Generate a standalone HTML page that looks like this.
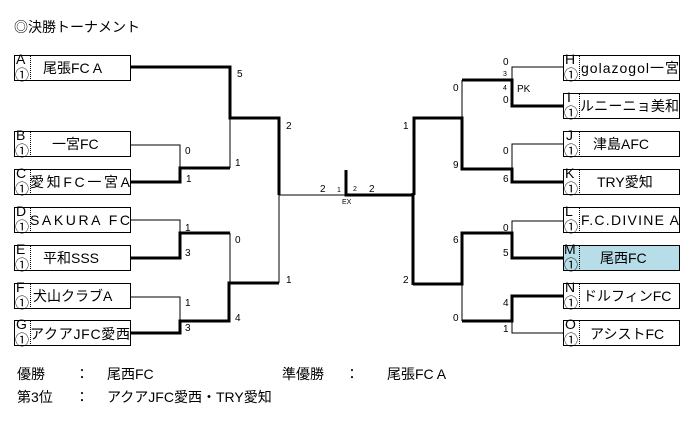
<!DOCTYPE html>
<html><head><meta charset="utf-8"><style>
html,body{margin:0;padding:0;background:#fff;width:698px;height:423px;overflow:hidden}
svg{display:block}
text{font-family:"Liberation Sans","Noto Sans CJK JP",sans-serif;fill:#000}
.n{font-size:14px}
.s{font-size:10px}
.t{font-size:7px}
</style></head><body>
<svg width="698" height="423" viewBox="0 0 698 423">
<text x="14" y="32" class="n">◎決勝トーナメント</text>

<g fill="none" stroke="#000">
<g stroke-width="1">
<path d="M130 145H180V168"/>
<path d="M230 168V118"/>
<path d="M130 220H180V233"/>
<path d="M230 233V283"/>
<path d="M130 297H180V321"/>
<path d="M279 195V283"/>
<path d="M279 195H346"/>
<path d="M563 67H512V80"/>
<path d="M462 80V118"/>
<path d="M563 144H512V169"/>
<path d="M563 221H512V233"/>
<path d="M563 333H512V321"/>
<path d="M462 284V321"/>
</g>
<g stroke-width="3">
<path d="M130 67H230V118H279V195"/>
<path d="M130 182H180V168H230"/>
<path d="M130 258H180V233H230"/>
<path d="M130 333H180V321H229V283H279"/>
<path d="M346 170V195H413"/>
<path d="M413 193V285"/>
<path d="M563 106H512V80H462"/>
<path d="M414 195V118H462V169H512V182H563"/>
<path d="M563 258H512V233H462V284H413"/>
<path d="M563 296H512V321H462"/>
</g>
</g>

<g stroke="#000" fill="#fff">
<rect x="14.5" y="55.5" width="116" height="25"/>
<rect x="14.5" y="131.5" width="116" height="25"/>
<rect x="14.5" y="169.5" width="116" height="25"/>
<rect x="14.5" y="207.5" width="116" height="25"/>
<rect x="14.5" y="245.5" width="116" height="25"/>
<rect x="14.5" y="283.5" width="116" height="25"/>
<rect x="14.5" y="320.5" width="116" height="25"/>
<rect x="563.5" y="55.5" width="116" height="25"/>
<rect x="563.5" y="93.5" width="116" height="25"/>
<rect x="563.5" y="131.5" width="116" height="25"/>
<rect x="563.5" y="169.5" width="116" height="25"/>
<rect x="563.5" y="207.5" width="116" height="25"/>
<rect x="563.5" y="245.5" width="116" height="25" fill="#b7dde8"/>
<rect x="563.5" y="283.5" width="116" height="25"/>
<rect x="563.5" y="320.5" width="116" height="25"/>
</g>
<g stroke="#000" stroke-dasharray="1,1">
<path d="M30.5 56V80M30.5 132V156M30.5 170V194M30.5 208V232M30.5 246V270M30.5 284V308M30.5 321V345"/>
<path d="M579.5 56V80M579.5 94V118M579.5 132V156M579.5 170V194M579.5 208V232M579.5 246V270M579.5 284V308M579.5 321V345"/>
</g>
<g class="n" font-size="13">
<text x="16" y="64">A</text><text x="15" y="80">①</text>
<text x="16" y="140">B</text><text x="15" y="156">①</text>
<text x="16" y="178">C</text><text x="15" y="194">①</text>
<text x="16" y="216">D</text><text x="15" y="232">①</text>
<text x="16" y="254">E</text><text x="15" y="270">①</text>
<text x="16" y="292">F</text><text x="15" y="308">①</text>
<text x="16" y="329">G</text><text x="15" y="345">①</text>
<text x="565" y="64">H</text><text x="564" y="80">①</text>
<text x="567" y="102">I</text><text x="564" y="118">①</text>
<text x="566" y="140">J</text><text x="564" y="156">①</text>
<text x="565" y="178">K</text><text x="564" y="194">①</text>
<text x="565" y="216">L</text><text x="564" y="232">①</text>
<text x="564" y="254">M</text><text x="564" y="270">①</text>
<text x="565" y="292">N</text><text x="564" y="308">①</text>
<text x="565" y="329">O</text><text x="564" y="345">①</text>
</g>
<g class="n">
<text x="43" y="73">尾張FC A</text>
<text x="52" y="149">一宮FC</text>
<text x="30" y="187" textLength="100">愛知FC一宮A</text>
<text x="30" y="225" textLength="100">SAKURA FC</text>
<text x="43" y="263">平和SSS</text>
<text x="33" y="301">犬山クラブA</text>
<text x="30" y="339" textLength="100">アクアJFC愛西</text>
<text x="581" y="73" textLength="98">golazogol一宮</text>
<text x="580" y="111" textLength="99">ルニーニョ美和</text>
<text x="593" y="149">津島AFC</text>
<text x="597" y="187">TRY愛知</text>
<text x="581" y="225" textLength="98">F.C.DIVINE A</text>
<text x="600" y="263">尾西FC</text>
<text x="583" y="301">ドルフィンFC</text>
<text x="590" y="339">アシストFC</text>
</g>

<g class="s">
<text x="237" y="77">5</text>
<text x="286" y="129">2</text>
<text x="185" y="154">0</text>
<text x="186" y="182">1</text>
<text x="235" y="166">1</text>
<text x="185" y="231">1</text>
<text x="185" y="256">3</text>
<text x="235" y="243">0</text>
<text x="185" y="306">1</text>
<text x="185" y="331">3</text>
<text x="235" y="321">4</text>
<text x="286" y="283">1</text>
<text x="320" y="192">2</text>
<text x="369" y="192">2</text>
<text x="453" y="91">0</text>
<text x="453" y="168">9</text>
<text x="403" y="129">1</text>
<text x="503" y="65">0</text>
<text x="503" y="103">0</text>
<text x="503" y="154">0</text>
<text x="503" y="182">6</text>
<text x="453" y="243">6</text>
<text x="403" y="283">2</text>
<text x="503" y="231">0</text>
<text x="503" y="256">5</text>
<text x="503" y="306">4</text>
<text x="503" y="332">1</text>
<text x="453" y="321">0</text>
<text x="517" y="92">PK</text>
</g>
<g class="t">
<text x="337" y="192">1</text>
<text x="353" y="191">2</text>
<text x="342" y="204">EX</text>
<text x="503" y="76">3</text>
<text x="503" y="90">4</text>
</g>

<g class="n">
<text x="17" y="379">優勝</text>
<text x="75" y="379">：</text>
<text x="107" y="379">尾西FC</text>
<text x="282" y="379">準優勝</text>
<text x="345" y="379">：</text>
<text x="387" y="379">尾張FC A</text>
<text x="17" y="402">第3位</text>
<text x="75" y="402">：</text>
<text x="107" y="402">アクアJFC愛西・TRY愛知</text>
</g>
</svg>
</body></html>
